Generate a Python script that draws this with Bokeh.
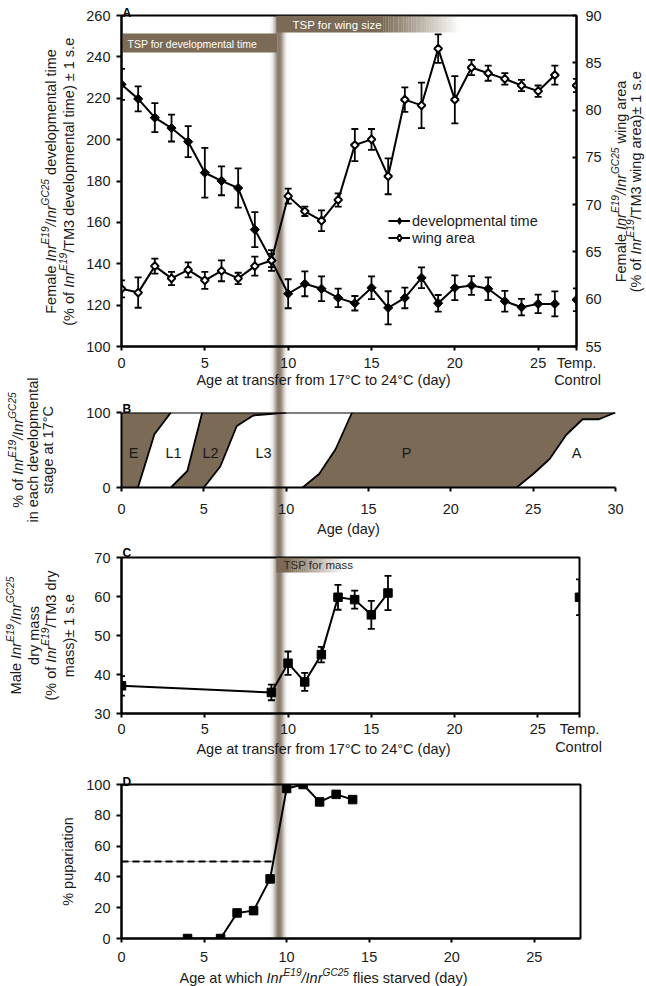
import math
import numpy as np
from bokeh.plotting import figure
from bokeh.models import (ColumnDataSource, Range1d, LinearAxis, FixedTicker, Whisker,
                          TeeHead, BoxAnnotation, Label, Legend, LegendItem, Span, GridBox)
from bokeh.embed import file_html
from bokeh.resources import INLINE

FONT = "Liberation Sans"
INK = "#1a1a1a"
BROWN = "#7b6a55"
BAND_COLOR = "#5a4632"
FS = 14.5

# ---------------- data ----------------
# Panel A: transfer 17C -> 24C, female developmental time (left) and wing area (right)
A_DAYS = list(range(27))
A_DEV = [226.7, 219.7, 210.6, 205.6, 199.0, 184.0, 180.1, 176.6, 156.5, 141.6,
         125.5, 130.3, 127.9, 123.5, 120.9, 128.4, 118.7, 123.5, 133.2, 120.9,
         128.4, 129.5, 127.9, 121.9, 119.0, 120.6, 120.6]
A_DEV_SE = [7.5, 6.0, 7.0, 6.5, 7.5, 12.0, 7.0, 9.5, 8.5, 5.0,
            7.0, 6.0, 6.0, 4.5, 3.5, 5.5, 8.0, 5.0, 5.0, 4.0,
            6.0, 4.5, 5.5, 5.0, 4.0, 4.5, 6.0]
A_WING = [61.1, 60.7, 63.5, 62.2, 63.1, 62.0, 63.0, 62.2, 63.5, 64.1,
          70.9, 69.3, 68.3, 70.5, 76.3, 76.9, 73.0, 81.1, 80.5, 86.5,
          81.1, 84.5, 83.9, 83.3, 82.6, 82.0, 83.7]
A_WING_SE = [0.9, 1.6, 0.8, 0.7, 0.8, 0.9, 1.1, 0.6, 1.0, 0.7,
             0.8, 0.5, 1.1, 0.7, 1.7, 1.1, 1.9, 1.3, 2.4, 1.5,
             2.5, 0.8, 0.8, 0.6, 0.6, 0.6, 1.0]
A_CTRL_X = 27.3
A_CTRL_DEV, A_CTRL_DEV_SE = 122.6, 5.5
A_CTRL_WING, A_CTRL_WING_SE = 82.6, 0.7
A_XTICKS = [0, 5, 10, 15, 20, 25]
A_YTICKS = [100, 120, 140, 160, 180, 200, 220, 240, 260]
A_Y2TICKS = [55, 60, 65, 70, 75, 80, 85, 90]
A_SERIES = ["developmental time", "wing area"]

# Panel B: stage boundaries (day, cumulative %)
B_EL1_X, B_EL1_Y = [1, 2, 3], [0, 71, 100]
B_L1L2_X, B_L1L2_Y = [3, 4, 4.9], [0, 22, 100]
B_L2L3_X, B_L2L3_Y = [5, 6, 7, 8, 9, 10], [0, 28, 82, 96, 98, 100]
B_L3P_X, B_L3P_Y = [11, 12, 13, 14], [0, 18, 51, 100]
B_PA_X, B_PA_Y = [24, 25, 26, 27, 28, 29, 30], [0, 18, 38, 70, 91, 91, 100]
B_STAGES = ["E", "L1", "L2", "L3", "P", "A"]
B_XTICKS = [0, 5, 10, 15, 20, 25, 30]
B_YTICKS = [0, 100]

# Panel C: male dry mass
C_DAYS = [0, 9, 10, 11, 12, 13, 14, 15, 16]
C_MASS = [37.1, 35.4, 42.9, 38.1, 45.1, 59.8, 59.2, 55.3, 60.9]
C_MASS_SE = [2.5, 2.0, 3.0, 2.3, 2.0, 3.2, 2.3, 3.6, 4.4]
C_CTRL_X = 27.5
C_CTRL, C_CTRL_SE = 59.8, 4.6
C_XTICKS = [0, 5, 10, 15, 20, 25]
C_YTICKS = [30, 40, 50, 60, 70]

# Panel D: pupariation after starvation
D_DAYS = [4, 6, 7, 8, 9, 10, 11, 12, 13, 14]
D_PUP = [0, 0, 16.6, 18.1, 38.7, 97.4, 100, 88.7, 93.6, 90.2]
D_HALF_X = [0, 9.15]
D_HALF_Y = [50, 50]
D_XTICKS = [0, 5, 10, 15, 20, 25]
D_YTICKS = [0, 20, 40, 60, 80, 100]

# critical-period markers (days)
BAND_DAY = 9.45
TSP_DEV = [0.0, 9.33]
TSP_WING = [9.3, 15.7, 20.3]
TSP_MASS = [9.3, 10.0, 13.4]

# ---------------- layout (page pixels) ----------------
W_PAGE, H_PAGE = 646, 986
GA = dict(L=121, R=576, T=15, B=346, top=0, bottom=392, x0=0, x1=A_CTRL_X, y0=100, y1=260)
GB = dict(L=121, R=615, T=412, B=487, top=392, bottom=538, x0=0, x1=30, y0=0, y1=100)
GC = dict(L=121, R=579, T=557, B=713, top=538, bottom=756, x0=0, x1=C_CTRL_X, y0=30, y1=70)
GD = dict(L=121, R=580, T=784, B=938, top=756, bottom=986, x0=0, x1=27.8, y0=0, y1=100)


def Y(G, py):
    return G["y0"] + (G["B"] - py) * (G["y1"] - G["y0"]) / (G["B"] - G["T"])


def X(G, px):
    return G["x0"] + (px - G["L"]) * (G["x1"] - G["x0"]) / (G["R"] - G["L"])


def make_fig(G):
    p = figure(x_range=Range1d(G["x0"], G["x1"]), y_range=Range1d(G["y0"], G["y1"]),
               frame_width=G["R"] - G["L"], frame_height=G["B"] - G["T"],
               min_border_left=G["L"], min_border_right=W_PAGE - G["R"],
               min_border_top=G["T"] - G["top"], min_border_bottom=G["bottom"] - G["B"],
               output_backend="svg", toolbar_location=None)
    p.frame_align = False
    p.grid.visible = False
    p.outline_line_color = None
    p.background_fill_alpha = 0
    p.border_fill_alpha = 0
    return p


def style_axis(ax, ticks, out, inn, standoff, overrides=None):
    ax.ticker = FixedTicker(ticks=ticks)
    ax.axis_line_color = "black"
    ax.axis_line_width = 2
    ax.major_tick_line_color = "black"
    ax.major_tick_line_width = 2
    ax.major_tick_out = out
    ax.major_tick_in = inn
    ax.minor_tick_line_color = None
    ax.major_label_text_font = FONT
    ax.major_label_text_font_size = f"{FS}px"
    ax.major_label_text_color = INK
    ax.major_label_standoff = standoff
    if overrides:
        ax.major_label_overrides = overrides


def fade_box(p, xs, top, bottom, n=30):
    p.add_layout(BoxAnnotation(left=xs[0], right=xs[1], top=top, bottom=bottom, fill_color=BROWN,
                               fill_alpha=1.0, line_color=None, level="underlay"))
    step = (xs[2] - xs[1]) / n
    for i in range(n):
        p.add_layout(BoxAnnotation(left=xs[1] + i * step, right=xs[1] + (i + 1) * step, top=top,
                                   bottom=bottom, fill_color=BROWN, fill_alpha=1 - (i + 0.5) / n,
                                   line_color=None, level="underlay"))


def flab(p, G, px, py, text, size=FS, align="center", color=INK):
    """label inside a panel frame, placed at page pixels"""
    p.add_layout(Label(x=X(G, px), y=Y(G, py), text=text, text_font=FONT,
                       text_font_size=f"{size}px", text_align=align, text_baseline="middle",
                       text_color=color))


# ---------- background canvas (page pixel coordinates) for outer texts and the TSP band ----------
bg = figure(x_range=Range1d(0, W_PAGE), y_range=Range1d(H_PAGE, 0), width=W_PAGE, height=H_PAGE,
            min_border_left=0, min_border_right=0, min_border_top=0, min_border_bottom=0,
            x_axis_type=None, y_axis_type=None, output_backend="svg", toolbar_location=None)
bg.frame_align = False
bg.outline_line_color = None
bg.grid.visible = False


def glab(px, py, text, size=FS, align="center", baseline="middle", angle=0.0, style="normal",
         color=INK):
    bg.add_layout(Label(x=px, y=py, text=text, text_font=FONT, text_font_size=f"{size}px",
                        text_align=align, text_baseline=baseline, angle=angle,
                        text_font_style=style, text_color=color))


CW = {' ': 278, '(': 333, ')': 333, '%': 889, '/': 278, '.': 278, ',': 278, '-': 333,
      '±': 584, '°': 400, 'A': 667, 'C': 722, 'D': 722, 'E': 667, 'F': 611, 'G': 778,
      'I': 278, 'M': 833, 'T': 611, 'a': 556, 'b': 556, 'c': 500, 'd': 556, 'e': 556,
      'f': 278, 'g': 556, 'h': 556, 'i': 222, 'j': 222, 'k': 500, 'l': 222, 'm': 833,
      'n': 556, 'o': 556, 'p': 556, 'q': 556, 'r': 333, 's': 500, 't': 278, 'u': 556,
      'v': 500, 'w': 722, 'x': 500, 'y': 500, 'z': 500}


def tw(s, size):
    return sum(CW.get(c, 556) for c in s) * size / 1000.0


def rich(segs, cx, cy, size=FS, vertical=False):
    sup = size * 0.7
    widths = [tw(t, sup if k == "s" else size) for t, k in segs]
    pos = -sum(widths) / 2.0
    for (t, k), w in zip(segs, widths):
        fs = sup if k == "s" else size
        lead = tw(t[:len(t) - len(t.lstrip())], fs)
        txt = t.strip()
        style = "italic" if k in ("i", "s") else "normal"
        rise = 0.36 * size if k == "s" else 0.0
        base = 0.36 * size
        if txt:
            if vertical:
                px, py, ang = cx + base - rise, cy - (pos + lead), math.pi / 2
            else:
                px, py, ang = cx + pos + lead, cy + base - rise, 0.0
            glab(px, py, txt, size=round(fs, 2), align="left", baseline="alphabetic", angle=ang,
                 style=style)
        pos += w


INR = [("Inr", "i"), ("E19", "s"), ("/", "i"), ("Inr", "i"), ("GC25", "s")]
INR_TM3 = [("Inr", "i"), ("E19", "s"), ("/TM3", "n")]

# vertical shaded band through all panels
band_px = GA["L"] + (BAND_DAY - GA["x0"]) * (GA["R"] - GA["L"]) / (GA["x1"] - GA["x0"])
offs = np.arange(-10, 11)
bg.quad(left=list(band_px + offs - 0.5), right=list(band_px + offs + 0.5), top=GA["T"],
        bottom=GD["B"], fill_color=BAND_COLOR,
        fill_alpha=list(0.93 * np.exp(-(offs / 4.6) ** 2)), line_color=None)

# outer texts
glab(122, 12, "A", size=12, align="left", baseline="alphabetic", style="bold", color="black")
rich([("Female ", "n")] + INR + [(" developmental time", "n")], 45, 181, vertical=True)
rich([("(% of ", "n")] + INR_TM3 + [(" developmental time) ± 1 s.e", "n")], 63, 181,
     vertical=True)
rich([("Female ", "n")] + INR + [(" wing area", "n")], 615, 181, vertical=True)
rich([("(% of ", "n")] + INR_TM3 + [(" wing area)± 1 s.e", "n")], 630, 181, vertical=True)
glab(323, 379, "Age at transfer from 17°C to 24°C (day)")
glab(577, 379, "Control")

glab(122, 408, "B", size=12, align="left", baseline="alphabetic", style="bold", color="black")
rich([("% of ", "n")] + INR, 12, 449.5, vertical=True)
rich([("in each developmental", "n")], 27, 449.5, vertical=True)
rich([("stage at 17°C", "n")], 42, 449.5, vertical=True)
glab(348, 528, "Age (day)")

glab(122, 552, "C", size=12, align="left", baseline="alphabetic", style="bold", color="black")
rich([("Male ", "n")] + INR, 10, 635, vertical=True)
rich([("dry mass", "n")], 28, 635, vertical=True)
rich([("(% of ", "n")] + INR_TM3 + [(" dry", "n")], 45, 635, vertical=True)
rich([("mass)± 1 s.e", "n")], 63, 635, vertical=True)
glab(323, 748, "Age at transfer from 17°C to 24°C (day)")
glab(578, 746, "Control")

glab(122, 781, "D", size=12, align="left", baseline="alphabetic", style="bold", color="black")
rich([("% pupariation", "n")], 62, 861, vertical=True)
rich([("Age at which ", "n")] + INR + [(" flies starved (day)", "n")], 323, 972)


def whisker(p, xs, vals, ses, range_name="default"):
    src = ColumnDataSource(dict(x=xs, lo=[v - e for v, e in zip(vals, ses)],
                                hi=[v + e for v, e in zip(vals, ses)]))
    p.add_layout(Whisker(source=src, base="x", lower="lo", upper="hi", line_color="black",
                         line_width=1.8, y_range_name=range_name,
                         upper_head=TeeHead(size=7, line_color="black", line_width=1.8),
                         lower_head=TeeHead(size=7, line_color="black", line_width=1.8)))


# ================= Panel A =================
pA = make_fig(GA)
pA.extra_y_ranges = {"wing": Range1d(55, 90)}
pA.add_layout(BoxAnnotation(left=TSP_DEV[0], right=TSP_DEV[1], top=Y(GA, 33), bottom=Y(GA, 52),
                            fill_color=BROWN, fill_alpha=1.0, line_color=None, level="underlay"))
fade_box(pA, TSP_WING, Y(GA, 15), Y(GA, 32))

whisker(pA, A_DAYS + [A_CTRL_X], A_DEV + [A_CTRL_DEV], A_DEV_SE + [A_CTRL_DEV_SE])
whisker(pA, A_DAYS + [A_CTRL_X], A_WING + [A_CTRL_WING], A_WING_SE + [A_CTRL_WING_SE], "wing")
dev_line = pA.line(A_DAYS, A_DEV, line_color="black", line_width=2)
wing_line = pA.line(A_DAYS, A_WING, line_color="black", line_width=2, y_range_name="wing")
# diamond markers underneath (they give the legend its diamond keys)
dev_key = pA.scatter(A_DAYS, A_DEV, marker="diamond", size=6, fill_color="black",
                     line_color="black")
wing_key = pA.scatter(A_DAYS, A_WING, marker="diamond", size=6, fill_color="white",
                      line_color="black", line_width=2, y_range_name="wing")
pA.scatter(A_DAYS + [A_CTRL_X], A_DEV + [A_CTRL_DEV], marker="square", angle=math.pi / 4,
           size=6.5, fill_color="black", line_color="black", line_width=1)
pA.scatter(A_DAYS + [A_CTRL_X], A_WING + [A_CTRL_WING], marker="square",
           angle=math.pi / 4, size=5.5, fill_color="white", line_color="black",
           line_width=2, y_range_name="wing")

legA = Legend(items=[LegendItem(label=A_SERIES[0], renderers=[dev_line, dev_key]),
                     LegendItem(label=A_SERIES[1], renderers=[wing_line, wing_key])],
              location=(267, 100), label_text_font=FONT, label_text_font_size=f"{FS}px",
              label_text_color=INK, glyph_width=22, glyph_height=17, label_height=16,
              label_standoff=2, spacing=0, padding=0, margin=0, border_line_color=None,
              background_fill_alpha=0)
pA.add_layout(legA)

style_axis(pA.xaxis[0], A_XTICKS + [A_CTRL_X], 4, 0, 4, {A_CTRL_X: "Temp."})
style_axis(pA.yaxis[0], A_YTICKS, 5, 0, 6)
ax2 = LinearAxis(y_range_name="wing")
style_axis(ax2, A_Y2TICKS, 0, 4, 9)
pA.add_layout(ax2, "right")
pA.outline_line_color = "black"
pA.outline_line_width = 2
flab(pA, GA, 127, 43, "TSP for developmental time", size=10.5, align="left", color="white")
flab(pA, GA, 292, 24, "TSP for wing size", size=11.5, align="left", color="white")

# ================= Panel B =================
pB = make_fig(GB)
e_xs = [0] + B_EL1_X + [0]
e_ys = [0] + B_EL1_Y + [100]
l2_xs = B_L1L2_X + B_L2L3_X[::-1]
l2_ys = B_L1L2_Y + B_L2L3_Y[::-1]
p_xs = B_L3P_X + B_PA_X[::-1]
p_ys = B_L3P_Y + B_PA_Y[::-1]
pB.patches(xs=[e_xs, l2_xs, p_xs], ys=[e_ys, l2_ys, p_ys], fill_color=BROWN, line_color=None)
pB.multi_line(xs=[B_EL1_X, B_L1L2_X, B_L2L3_X, B_L3P_X, B_PA_X],
              ys=[B_EL1_Y, B_L1L2_Y, B_L2L3_Y, B_L3P_Y, B_PA_Y], line_color="black", line_width=1.8)
pB.add_layout(Span(location=100, dimension="width", line_color="black", line_width=2))
style_axis(pB.xaxis[0], B_XTICKS, 4, 0, 12)
style_axis(pB.yaxis[0], B_YTICKS, 5, 0, 6)
stage_px = [133, 173, 210, 263, 406, 576]
for s, px in zip(B_STAGES, stage_px):
    flab(pB, GB, px, 452, s)

# ================= Panel C =================
pC = make_fig(GC)
fade_box(pC, TSP_MASS, Y(GC, 557), Y(GC, 572))
whisker(pC, C_DAYS + [C_CTRL_X], C_MASS + [C_CTRL], C_MASS_SE + [C_CTRL_SE])
pC.line(C_DAYS, C_MASS, line_color="black", line_width=2)
pC.scatter(C_DAYS + [C_CTRL_X], C_MASS + [C_CTRL], marker="square", size=8.5, fill_color="black",
           line_color="black")
style_axis(pC.xaxis[0], C_XTICKS + [C_CTRL_X], 4, 0, 3, {C_CTRL_X: "Temp."})
style_axis(pC.yaxis[0], C_YTICKS, 5, 0, 6)
pC.outline_line_color = "black"
pC.outline_line_width = 2
flab(pC, GC, 283, 564.5, "TSP for mass", size=11.5, align="left", color="#2a2a2a")

# ================= Panel D =================
pD = make_fig(GD)
pD.line(D_HALF_X, D_HALF_Y, line_color="#9a9a9a", line_width=1)
pD.line(D_HALF_X, D_HALF_Y, line_color="black", line_width=2, line_dash="7 4")
pD.line(D_DAYS, D_PUP, line_color="black", line_width=2)
pD.scatter(D_DAYS, D_PUP, marker="square", size=8.5, fill_color="black", line_color="black")
style_axis(pD.xaxis[0], D_XTICKS, 4, 0, 9)
style_axis(pD.yaxis[0], D_YTICKS, 5, 0, 6)
pD.outline_line_color = "black"
pD.outline_line_width = 2

grid = GridBox(children=[(bg, 0, 0, 4, 1), (pA, 0, 0), (pB, 1, 0), (pC, 2, 0), (pD, 3, 0)])
open("out.html", "w").write(file_html(grid, INLINE))
